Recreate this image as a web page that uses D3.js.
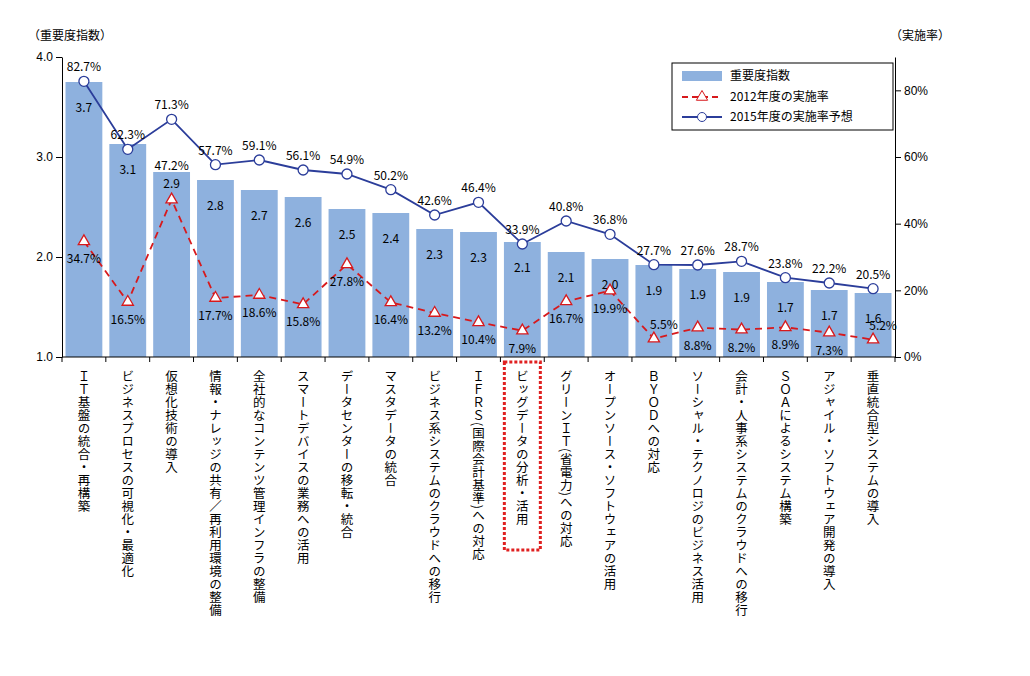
<!DOCTYPE html>
<html><head><meta charset="utf-8">
<script src="https://cdn.jsdelivr.net/npm/d3@7"></script>
<style>body{margin:0;background:#fff;font-family:"Noto Sans CJK JP",sans-serif}</style>
</head><body><div id="chart"></div>
<script>
const categories = ["ＩＴ基盤の統合・再構築","ビジネスプロセスの可視化・最適化","仮想化技術の導入","情報・ナレッジの共有／再利用環境の整備","全社的なコンテンツ管理インフラの整備","スマートデバイスの業務への活用","データセンターの移転・統合","マスタデータの統合","ビジネス系システムのクラウドへの移行","ＩＦＲＳ(国際会計基準)への対応","ビッグデータの分析・活用","グリーンＩＴ(省電力)への対応","オープンソース・ソフトウェアの活用","ＢＹＯＤへの対応","ソーシャル・テクノロジのビジネス活用","会計・人事系システムのクラウドへの移行","ＳＯＡによるシステム構築","アジャイル・ソフトウェア開発の導入","垂直統合型システムの導入"];
const importance = [3.75,3.13,2.85,2.77,2.67,2.6,2.48,2.44,2.28,2.25,2.15,2.05,1.98,1.92,1.88,1.85,1.75,1.67,1.64];
const importanceLabels = ["3.7","3.1","2.9","2.8","2.7","2.6","2.5","2.4","2.3","2.3","2.1","2.1","2.0","1.9","1.9","1.9","1.7","1.7","1.6"];
const rate2012 = [34.7,16.5,47.2,17.7,18.6,15.8,27.8,16.4,13.2,10.4,7.9,16.7,19.9,5.5,8.8,8.2,8.9,7.3,5.2];
const rate2015 = [82.7,62.3,71.3,57.7,59.1,56.1,54.9,50.2,42.6,46.4,33.9,40.8,36.8,27.7,27.6,28.7,23.8,22.2,20.5];
const leftTicks = [1,2,3,4];
const rightTicks = [0,20,40,60,80];

const W = 1030, H = 676, L = 62, R = 895, T = 57, B = 357;
const svg = d3.select("#chart").append("svg").attr("width", W).attr("height", H)
  .style("font-family", '"Noto Sans CJK JP",sans-serif');

const x = d3.scaleBand().domain(d3.range(categories.length)).range([L, R]).paddingInner(0.16).paddingOuter(0.08);
const y = d3.scaleLinear().domain([1, 4]).range([B, T]);
const y2 = d3.scaleLinear().domain([0, 90]).range([B, T]);
const cx = i => x(i) + x.bandwidth() / 2;

// bars
svg.append("g").selectAll("rect").data(importance).enter().append("rect")
  .attr("x", (d, i) => x(i)).attr("width", x.bandwidth())
  .attr("y", d => y(d)).attr("height", d => B - y(d))
  .attr("fill", "#8eb1de");
svg.append("g").selectAll("text").data(importanceLabels).enter().append("text")
  .attr("x", (d, i) => cx(i)).attr("y", (d, i) => y(importance[i]) + (i === 2 ? 16 : 30))
  .attr("text-anchor", "middle").attr("font-size", 12).text(d => d);

// axes
svg.append("g").attr("transform", `translate(${L},0)`)
  .call(d3.axisLeft(y).tickValues(leftTicks).tickFormat(d3.format(".1f")).tickSizeOuter(0))
  .call(g => g.selectAll("text").attr("font-size", 12).attr("font-family", "inherit"));
svg.append("g").attr("transform", `translate(${R},0)`)
  .call(d3.axisRight(y2).tickValues(rightTicks).tickFormat(d => d + "%").tickSizeOuter(0))
  .call(g => g.selectAll("text").attr("font-size", 12).attr("font-family", "inherit"));
svg.append("line").attr("x1", L).attr("x2", R).attr("y1", B).attr("y2", B).attr("stroke", "#000");
svg.append("g").selectAll("line").data(d3.range(categories.length + 1)).enter().append("line")
  .attr("x1", i => L + i * (R - L) / categories.length).attr("x2", i => L + i * (R - L) / categories.length)
  .attr("y1", B).attr("y2", B + 5).attr("stroke", "#000");

svg.append("text").attr("x", 28).attr("y", 40).attr("font-size", 12).text("（重要度指数）");
svg.append("text").attr("x", 890).attr("y", 40).attr("font-size", 12).text("（実施率）");

// lines
const line = d3.line().x((d, i) => cx(i)).y(d => y2(d));
svg.append("path").datum(rate2015).attr("d", line).attr("fill", "none").attr("stroke", "#2b3d9a").attr("stroke-width", 1.8);
svg.append("path").datum(rate2012).attr("d", line).attr("fill", "none").attr("stroke", "#d7191c").attr("stroke-width", 1.8).attr("stroke-dasharray", "7,5");
svg.append("g").selectAll("circle").data(rate2015).enter().append("circle")
  .attr("cx", (d, i) => cx(i)).attr("cy", d => y2(d)).attr("r", 5)
  .attr("fill", "#fff").attr("stroke", "#2b3d9a").attr("stroke-width", 1.3);
const tri = d3.symbol().type(d3.symbolTriangle).size(55);
svg.append("g").selectAll("path").data(rate2012).enter().append("path")
  .attr("d", tri).attr("transform", (d, i) => `translate(${cx(i)},${y2(d)})`)
  .attr("fill", "#fff").attr("stroke", "#d7191c").attr("stroke-width", 1.3);

svg.append("g").selectAll("text").data(rate2015).enter().append("text")
  .attr("x", (d, i) => cx(i)).attr("y", d => y2(d) - 10)
  .attr("text-anchor", "middle").attr("font-size", 12).text(d => d.toFixed(1) + "%");
svg.append("g").selectAll("text").data(rate2012).enter().append("text")
  .attr("x", (d, i) => cx(i) + (i === 13 || i === 18 ? 10 : 0))
  .attr("y", (d, i) => i === 2 ? y2(d) - 30 : (i === 13 || i === 18) ? y2(d) - 10 : y2(d) + 22)
  .attr("text-anchor", "middle").attr("font-size", 12).text(d => d.toFixed(1) + "%");

// category labels (vertical)
svg.append("g").selectAll("text").data(categories).enter().append("text")
  .attr("x", (d, i) => cx(i)).attr("y", 370)
  .style("writing-mode", "vertical-rl").attr("font-size", 12.5).attr("letter-spacing", 0.5)
  .text(d => d);
svg.append("rect").attr("x", cx(10) - 18).attr("y", 362).attr("width", 36).attr("height", 188)
  .attr("fill", "none").attr("stroke", "#e02020").attr("stroke-width", 3).attr("stroke-dasharray", "3,2");

// legend
const lg = svg.append("g").attr("transform", "translate(672,63)");
lg.append("rect").attr("width", 221).attr("height", 67).attr("fill", "#fff").attr("stroke", "#000");
lg.append("rect").attr("x", 10).attr("y", 8).attr("width", 40).attr("height", 10).attr("fill", "#8eb1de");
lg.append("line").attr("x1", 10).attr("x2", 50).attr("y1", 34).attr("y2", 34).attr("stroke", "#d7191c").attr("stroke-width", 2).attr("stroke-dasharray", "6,4");
lg.append("path").attr("d", tri).attr("transform", "translate(30,34)").attr("fill", "#fff").attr("stroke", "#d7191c");
lg.append("line").attr("x1", 10).attr("x2", 50).attr("y1", 54).attr("y2", 54).attr("stroke", "#2b3d9a").attr("stroke-width", 2);
lg.append("circle").attr("cx", 30).attr("cy", 54).attr("r", 4.5).attr("fill", "#fff").attr("stroke", "#2b3d9a");
[["重要度指数", 17], ["2012年度の実施率", 38], ["2015年度の実施率予想", 58]].forEach(([t, yy]) =>
  lg.append("text").attr("x", 58).attr("y", yy).attr("font-size", 12).text(t));
</script></body></html>
